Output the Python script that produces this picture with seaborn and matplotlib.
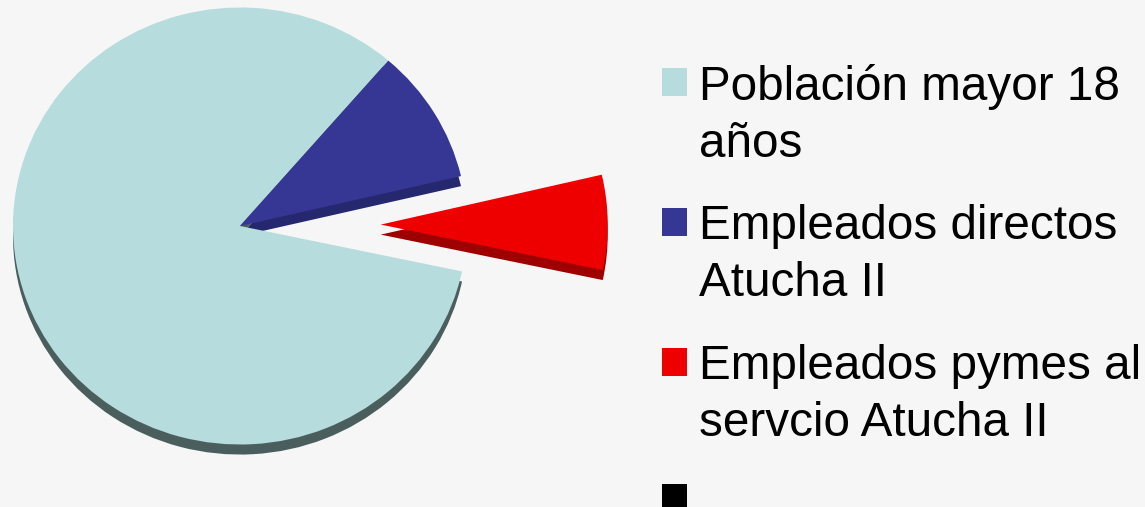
import seaborn as sns
import matplotlib.pyplot as plt
from matplotlib.patches import Rectangle, Wedge
from matplotlib.legend_handler import HandlerPatch

# Datos del gráfico
categorias = ['Población mayor 18\naños',
              'Empleados directos\nAtucha II',
              'Empleados pymes al\nservcio Atucha II',
              '']
valores = [83, 10, 7, 0]
colores = ['#b6dcde', '#363694', '#ee0000', '#000000']
colores_lado = ['#4b5e5e', '#25286f', '#9e0000', '#000000']
separacion = [0, 0, 0.62, 0]

sns.set_theme(style='white')
plt.rcParams['font.family'] = ['Liberation Sans', 'DejaVu Sans']

fig = plt.figure(figsize=(11.45, 5.07), dpi=100)
fig.patch.set_facecolor('#f6f6f6')
ax = fig.add_axes([0, 0, 1, 1])
ax.set_facecolor('#f6f6f6')

# "Grosor" del pastel: copia oscura desplazada hacia abajo
ax.pie(valores, colors=colores_lado, explode=separacion, startangle=-12,
       counterclock=False, radius=1.0, center=(0, -0.046),
       wedgeprops=dict(linewidth=0))
cunas, _ = ax.pie(valores, colors=colores, explode=separacion, startangle=-12,
                  counterclock=False, radius=1.0, center=(0, 0),
                  wedgeprops=dict(linewidth=0))

# pastel algo achatado (vista inclinada)
ax.set_aspect('auto')
ax.set_xlim(-240 / 227, (1145 - 240) / 227)
ax.set_ylim(-281 / 218.5, 226 / 218.5)
ax.axis('off')


# cuadrito alineado con la primera línea del texto (el negro no tiene texto)
def cuadro(legend, orig_handle, xdescent, ydescent, width, height, fontsize):
    negro = tuple(orig_handle.get_facecolor()[:3]) == (0.0, 0.0, 0.0)
    sube = 0.06 * fontsize if negro else 0.71 * fontsize
    return Rectangle((-xdescent, -ydescent + sube), width, height)


leg = ax.legend(cunas, categorias, loc='upper left',
                bbox_to_anchor=(638 / 1145, 1 - 40 / 507), bbox_transform=fig.transFigure,
                frameon=False, fontsize=34.3, borderpad=0, handlelength=0.53,
                handleheight=0.53, handletextpad=0.25, labelspacing=0.78,
                handler_map={Wedge: HandlerPatch(patch_func=cuadro)})
for t in leg.get_texts():
    t.set_color('black')
    t.set_linespacing(1.35)

plt.savefig('out.png', dpi=100, facecolor=fig.get_facecolor())
